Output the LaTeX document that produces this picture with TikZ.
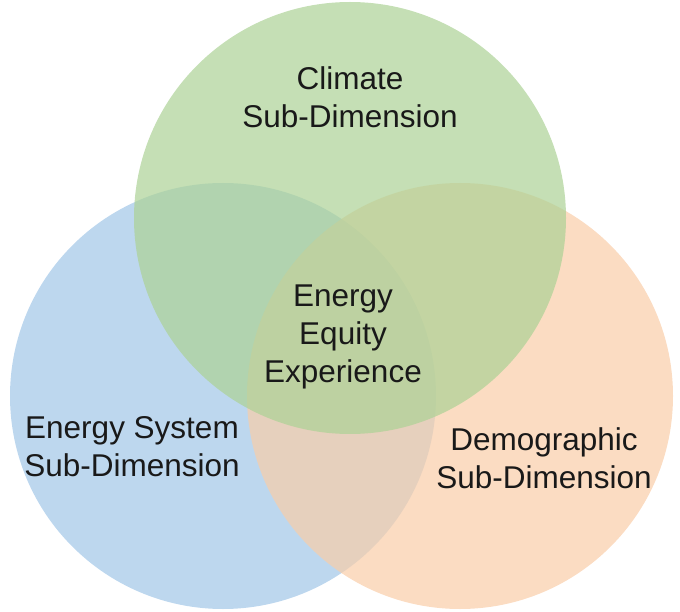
\documentclass[tikz,border=0pt]{standalone}
\usepackage{fontspec}
\setmainfont{Liberation Sans}
\usepackage{tikz}
\usetikzlibrary{positioning}
\definecolor{climatecolor}{HTML}{ACD295}
\definecolor{systemcolor}{HTML}{A1C6E7}
\definecolor{democolor}{HTML}{F9CDA8}

\begin{document}
\begin{tikzpicture}[
    x=1pt, y=-1pt,
    venn/.style={circle, draw=none, fill opacity=0.7, inner sep=0pt},
    dimtext/.style={align=center, font=\fontsize{31.5}{38}\selectfont, text=black!90}
]
\useasboundingbox (0,0) rectangle (680,612);
% the three sub-dimensions
\node[venn, fill=systemcolor, minimum size=426pt] (sys) at (223,396) {};
\node[venn, fill=democolor, minimum size=426pt] (demo) at (460,396) {};
\node[venn, fill=climatecolor, minimum size=432pt] (clim) at (350,218) {};

\node[dimtext] (climtext) at (350,97) {Climate\\Sub-Dimension};
\node[dimtext] (systext) at (132,447) {Energy System\\Sub-Dimension};
\node[dimtext] (demotext) at (544,458) {Demographic\\Sub-Dimension};
\node[dimtext] (core) at (343,337) {Energy\\Equity\\Experience};
\end{tikzpicture}
\end{document}
